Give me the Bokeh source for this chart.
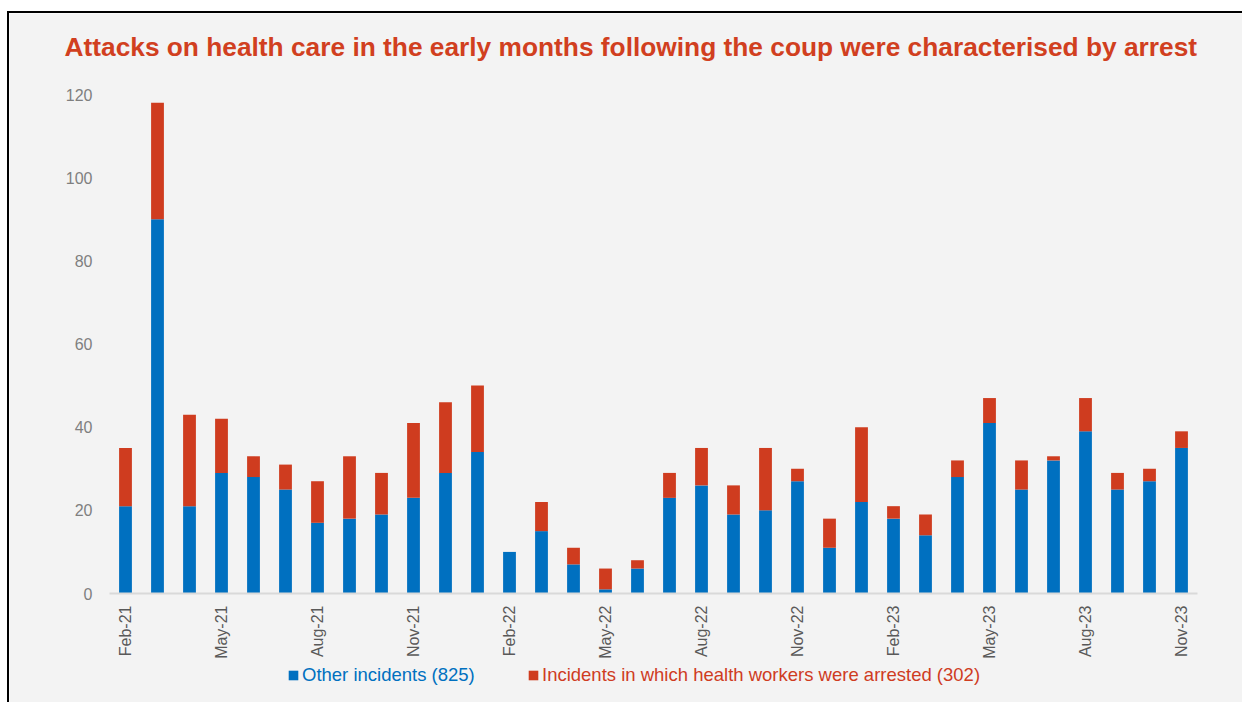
from math import pi
from bokeh.plotting import figure
from bokeh.models import Range1d, FixedTicker, Legend, LegendItem, Label, ColumnDataSource
from bokeh.embed import file_html
from bokeh.resources import INLINE

months = ["Feb-21", "Mar-21", "Apr-21", "May-21", "Jun-21", "Jul-21", "Aug-21", "Sep-21",
          "Oct-21", "Nov-21", "Dec-21", "Jan-22", "Feb-22", "Mar-22", "Apr-22", "May-22",
          "Jun-22", "Jul-22", "Aug-22", "Sep-22", "Oct-22", "Nov-22", "Dec-22", "Jan-23",
          "Feb-23", "Mar-23", "Apr-23", "May-23", "Jun-23", "Jul-23", "Aug-23", "Sep-23",
          "Oct-23", "Nov-23"]
other = [21, 90, 21, 29, 28, 25, 17, 18, 19, 23, 29, 34,
         10, 15, 7, 1, 6, 23, 26, 19, 20, 27, 11, 22,
         18, 14, 28, 41, 25, 32, 39, 25, 27, 35]
arrested = [14, 28, 22, 13, 5, 6, 10, 15, 10, 18, 17, 16,
            0, 7, 4, 5, 2, 6, 9, 7, 15, 3, 7, 18,
            3, 5, 4, 6, 7, 1, 8, 4, 3, 4]
tick_labels = months[::3]
y_ticks = [0, 20, 40, 60, 80, 100, 120]
series_names = ["Other incidents (825)", "Incidents in which health workers were arrested (302)"]
title_text = "Attacks on health care in the early months following the coup were characterised by arrest"

BLUE = "#0070c0"
RED = "#cf3c1f"
BG = "#f3f3f3"
FONT = "Liberation Sans"

n = len(months)
idx = list(range(n))
src = ColumnDataSource(dict(x=idx, other=other, arrested=arrested, month=months))

# canvas is 1235 x 691; data area spans 1088 x 499 px inside it
PX_X = 1088 / n
PX_Y = 499 / 120
x0 = -0.5 - 100 / PX_X
x1 = n - 0.5 + 47 / PX_X
y1 = 120 + 81 / PX_Y
y0 = -111 / PX_Y

p = figure(width=1235, height=691,
           min_border_left=0, min_border_right=0, min_border_top=0, min_border_bottom=0,
           x_range=Range1d(x0, x1), y_range=Range1d(y0, y1),
           output_backend="svg", toolbar_location=None,
           background_fill_color=BG, border_fill_color=BG)
p.styles = {"margin-top": "11px", "margin-left": "7px",
            "border-top": "2px solid black", "border-left": "2px solid black"}
p.outline_line_color = None
p.grid.visible = False

rs = p.vbar_stack(["other", "arrested"], x="x", width=0.4, source=src,
                  color=[BLUE, RED], line_color=None)

xa = p.xaxis[0]
xa.fixed_location = 0
xa.bounds = (-0.5, n - 0.5)
xa.ticker = FixedTicker(ticks=idx[::3])
xa.major_label_overrides = {i: lab for i, lab in zip(idx[::3], tick_labels)}
xa.major_label_orientation = pi / 2
xa.axis_line_color = "#d9d9d9"
xa.axis_line_width = 2
xa.major_tick_line_color = None
xa.minor_tick_line_color = None
xa.major_label_text_color = "#595959"
xa.major_label_text_font = FONT
xa.major_label_text_font_size = "16px"
xa.major_label_standoff = 6

ya = p.yaxis[0]
ya.fixed_location = -0.5
ya.bounds = (0, 120)
ya.ticker = FixedTicker(ticks=y_ticks)
ya.axis_line_color = None
ya.major_tick_line_color = None
ya.minor_tick_line_color = None
ya.major_label_text_color = "#7f7f7f"
ya.major_label_text_font = FONT
ya.major_label_text_font_size = "16px"
ya.major_label_standoff = 11

title = Label(x=55, y=658, x_units="screen", y_units="screen", text=title_text,
              text_font=FONT, text_font_size="26.3px", text_font_style="bold",
              text_color="#d13f20", text_baseline="middle")
p.add_layout(title)

for r, name, col, lx in [(rs[0], series_names[0], BLUE, 278), (rs[1], series_names[1], RED, 518)]:
    leg = Legend(items=[LegendItem(label=name, renderers=[r])], location=(lx, 18),
                 orientation="horizontal", margin=0, padding=0,
                 border_line_color=None, background_fill_alpha=0,
                 glyph_width=12, glyph_height=12, label_standoff=3, label_height=20,
                 label_text_color=col, label_text_font=FONT, label_text_font_size="18.5px")
    p.add_layout(leg)

open("out.html", "w").write(file_html(p, INLINE))
